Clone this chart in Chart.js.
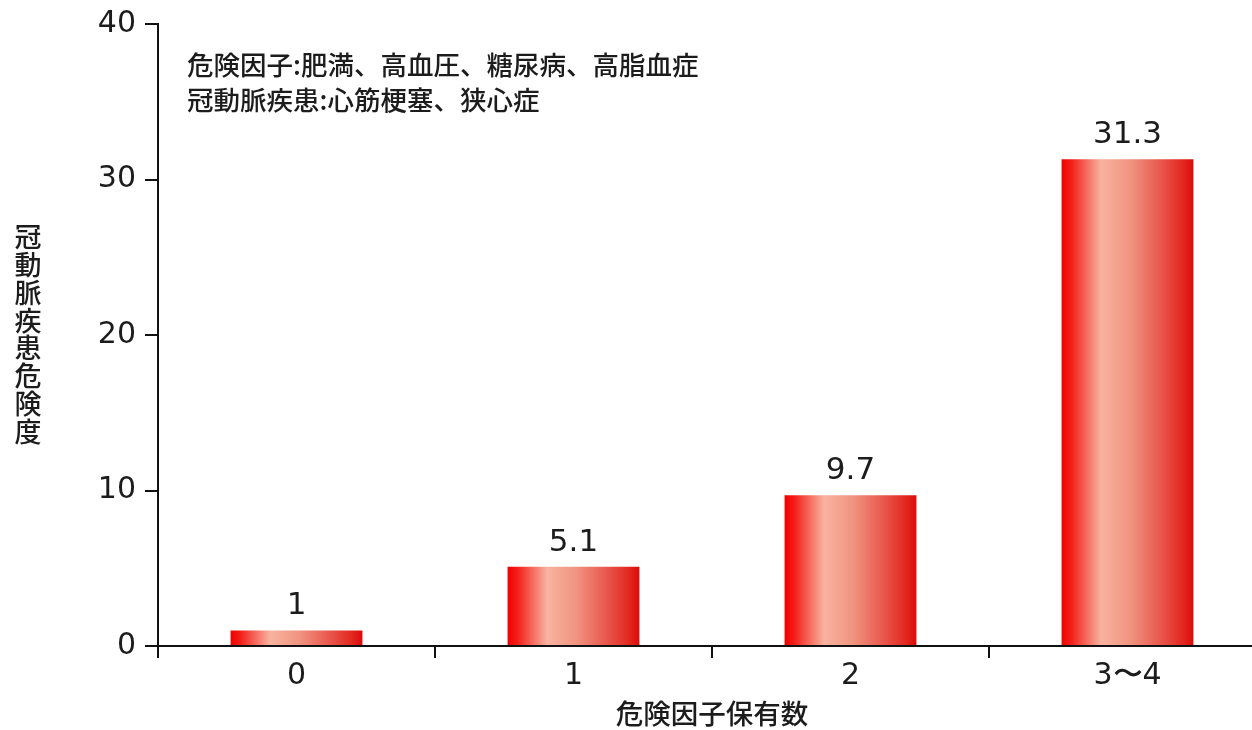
<!DOCTYPE html>
<html>
<head>
<meta charset="utf-8">
<script src="https://cdn.jsdelivr.net/npm/chart.js@4/dist/chart.umd.min.js"></script>
<style>
  html, body { margin: 0; padding: 0; background: #fff; overflow: hidden; }
  #wrap { position: relative; width: 1280px; height: 730px; }
</style>
</head>
<body>
<div id="wrap"><canvas id="c"></canvas></div>
<script>
// ---- data ----
const categories = ['0', '1', '2', '3〜4'];
const riskValues = [1, 5.1, 9.7, 31.3];
const valueLabels = ['1', '5.1', '9.7', '31.3'];
const yTicks = [0, 10, 20, 30, 40];
const xTitle = '危険因子保有数';
const yTitle = '冠動脈疾患危険度';
const noteLines = ['危険因子:肥満、高血圧、糖尿病、高脂血症', '冠動脈疾患:心筋梗塞、狭心症'];

// ---- style ----
const BAR_PCT = 0.476;
const TEXT = '#1c1c1c';
const NUM_FONT = 'DejaVu Sans';
const JP_FONT = '"Noto Sans CJK JP"';

function barGradient(c) {
  const chart = c.chart;
  const area = chart.chartArea;
  if (!area || c.type !== 'data') return '#e83a30';
  const xs = chart.scales.x;
  const cx = xs.getPixelForValue(c.dataIndex);
  const half = (xs.width / categories.length) * BAR_PCT / 2;
  const g = chart.ctx.createLinearGradient(cx - half, 0, cx + half, 0);
  g.addColorStop(0.00, '#f00000');
  g.addColorStop(0.07, '#f31c16');
  g.addColorStop(0.30, '#f8b3a0');
  g.addColorStop(0.52, '#f09480');
  g.addColorStop(0.74, '#e95a50');
  g.addColorStop(0.92, '#e2281f');
  g.addColorStop(1.00, '#dc0a0a');
  return g;
}

const annotationPlugin = {
  id: 'annot',
  afterDatasetsDraw(chart) {
    const ctx = chart.ctx;
    ctx.save();
    // value labels above bars
    ctx.fillStyle = TEXT;
    ctx.font = '31px ' + NUM_FONT;
    ctx.textAlign = 'center';
    ctx.textBaseline = 'middle';
    const meta = chart.getDatasetMeta(0);
    meta.data.forEach((el, i) => {
      ctx.fillText(valueLabels[i], el.x, el.y - 24);
    });
    // notes
    ctx.font = '500 26.5px ' + JP_FONT;
    ctx.textAlign = 'left';
    noteLines.forEach((t, i) => ctx.fillText(t, 187, 65 + i * 35));
    // vertical y title
    ctx.font = '500 27px ' + JP_FONT;
    ctx.textAlign = 'center';
    const chars = Array.from(yTitle);
    chars.forEach((ch, i) => ctx.fillText(ch, 28, 237 + i * 27.8));
    ctx.restore();
  }
};

new Chart(document.getElementById('c'), {
  type: 'bar',
  data: {
    labels: categories,
    datasets: [{
      data: riskValues,
      backgroundColor: barGradient,
      borderWidth: 0,
      barPercentage: BAR_PCT,
      categoryPercentage: 1.0
    }]
  },
  options: {
    responsive: true,
    maintainAspectRatio: false,
    animation: false,
    devicePixelRatio: 1,
    layout: { padding: { top: 24, right: 14, left: 0, bottom: 0 } },
    plugins: { legend: { display: false }, tooltip: { enabled: false } },
    scales: {
      x: {
        offset: true,
        grid: { display: true, drawOnChartArea: false, offset: true, tickLength: 12, color: '#111', lineWidth: 2 },
        border: { display: true, color: '#111', width: 2 },
        ticks: { color: TEXT, font: { family: NUM_FONT, size: 30 }, padding: 0, maxRotation: 0 },
        title: { display: true, text: xTitle, color: TEXT, font: { family: JP_FONT, size: 27.5, weight: 500 }, padding: { top: 0, bottom: 0 } },
        afterFit(s) { s.height = 84; s.paddingLeft = 0; s.paddingRight = 0; }
      },
      y: {
        min: 0, max: 40,
        afterBuildTicks(s) { s.ticks = yTicks.map(v => ({ value: v })); },
        grid: { display: true, drawOnChartArea: false, tickLength: 13, color: '#111', lineWidth: 2 },
        border: { display: true, color: '#111', width: 2 },
        ticks: { color: TEXT, font: { family: NUM_FONT, size: 30 }, padding: 9 },
        afterFit(s) { s.width = 158; s.paddingTop = 0; s.paddingBottom = 0; }
      }
    }
  },
  plugins: [annotationPlugin]
});
</script>
</body>
</html>
